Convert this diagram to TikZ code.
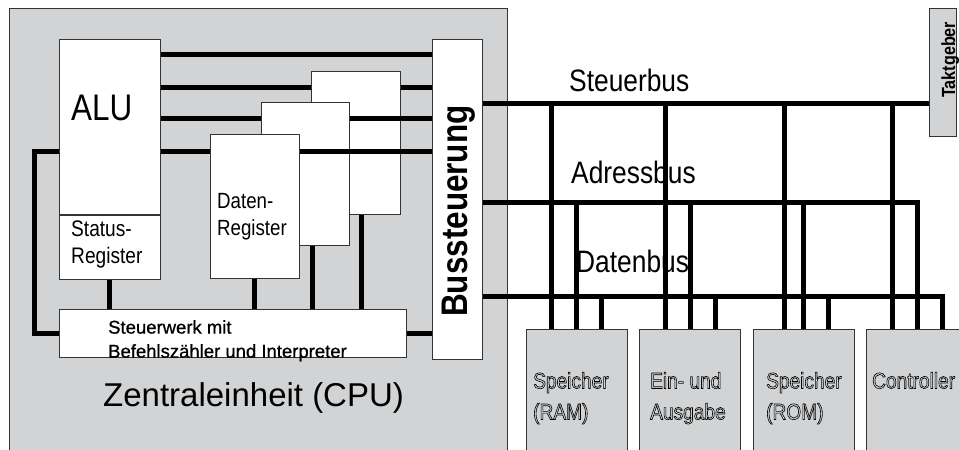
\documentclass[tikz,border=0pt]{standalone}
\usepackage{fontspec}
\setmainfont{Liberation Sans}
\newfontfamily\narrowsf{Liberation Sans}[FakeStretch=0.85]
\newfontfamily\heavysf{Liberation Sans}[FakeBold=0.8]
\usetikzlibrary{positioning}
\definecolor{cpugray}{RGB}{210,211,213}
\newcommand\hollowtext{\special{pdf:literal direct 0.6 w 1 Tr}}
\newcommand\solidtext{\special{pdf:literal direct 0 Tr}}

\begin{document}
\begin{tikzpicture}[x=1pt,y=-1pt,
  box/.style={draw=black!80,line width=0.8pt,fill=white,anchor=north west,inner sep=0pt},
  graybox/.style={box,fill=cpugray},
  bus/.style={line width=5pt},
  txt/.style={inner sep=0pt,align=left,anchor=north west},
  buslbl/.style={inner sep=0pt,anchor=base west,font=\narrowsf\fontsize{31}{37}\selectfont},
  devlbl/.style={txt,font=\narrowsf\fontsize{22.5}{31}\selectfont}]
\useasboundingbox (0,0) rectangle (959,450);
\clip (0,0) rectangle (959,450);
\fill[white] (0,0) rectangle (959,450);

\node[graybox,minimum width=498,minimum height=460] (cpu) at (9,7.5) {};

\node[buslbl] (sbl) at (569,91) {Steuerbus};
\node[buslbl] (abl) at (571,183) {Adressbus};
\node[buslbl] (dbl) at (576,272) {Datenbus};

\node[box,minimum width=50,minimum height=320] (bst) at (432,39) {};
\node[box,minimum width=101,minimum height=175] (alu) at (59,39) {};
\node[box,minimum width=101,minimum height=64,below=0pt of alu] (stat) {};
\node[box,minimum width=347,minimum height=48] (stw) at (59,309) {};

\coordinate (r1) at (0,54);
\coordinate (r2) at (0,87);
\coordinate (r3) at (0,118);
\coordinate (r4) at (0,151);

\draw[bus] (alu.east|-r1) -- (bst.west|-r1);
\draw[bus] (alu.east|-r2) -- (bst.west|-r2);
\node[box,minimum width=89,minimum height=143] (breg) at (311,71) {};
\draw[bus] (alu.east|-r3) -- (bst.west|-r3);
\node[box,minimum width=88,minimum height=143] (mreg) at (261,102) {};
\draw[bus] (alu.east|-r4) -- (bst.west|-r4);
\node[box,minimum width=89,minimum height=144] (dreg) at (210,134) {};

\draw[bus] (alu.west|-r4) -- ++(-25,0) |- (stw.west);
\draw[bus] (stw.east) -- (stw.east-|bst.west);
\draw[bus] (stat.south) -- (stat.south|-stw.north);
\draw[bus] (dreg.south) -- (dreg.south|-stw.north);
\draw[bus] ([xshift=7]mreg.south) -- ([xshift=7]mreg.south|-stw.north);
\draw[bus] ([xshift=6]breg.south) -- ([xshift=6]breg.south|-stw.north);

\node[inner sep=0pt,anchor=base west,font=\narrowsf\fontsize{37}{44}\selectfont] (alut) at (71,120) {ALU};
\node[txt,font=\narrowsf\fontsize{22.5}{27}\selectfont] (statt) at (71,221) {Status-\\Register};
\node[txt,font=\narrowsf\fontsize{22}{27}\selectfont] (dregt) at (217,193) {Daten-\\Register};
\node[txt,font=\heavysf\fontsize{18.5}{24}\selectfont] (stwt) at (108,320) {Steuerwerk mit\\Befehlszähler und Interpreter};
\node[inner sep=0pt,anchor=base west,font=\fontsize{33}{40}\selectfont] (cput) at (103,406) {Zentraleinheit (CPU)};
\node[inner sep=0pt,anchor=base west,rotate=90,font=\narrowsf\bfseries\fontsize{37}{44}\selectfont] (bstt) at (467,317) {Bussteuerung};

\node[graybox,minimum width=101,minimum height=130] (ram) at (526,329) {};
\node[graybox,minimum width=101,minimum height=130] (ea) at (639,329) {};
\node[graybox,minimum width=101,minimum height=130] (rom) at (753,329) {};
\node[graybox,minimum width=110,minimum height=130] (ctl) at (866,329) {};
\node[graybox,minimum width=27,minimum height=128] (takt) at (929,7.5) {};
\node[inner sep=0pt,anchor=base west,rotate=90,font=\narrowsf\bfseries\fontsize{19}{23}\selectfont] (taktt) at (955,98) {Taktgeber};

\node[devlbl] (ramt) at (533,372) {\hollowtext Speicher\\(RAM)\solidtext};
\node[devlbl] (eat) at (650,372) {\hollowtext Ein- und\\Ausgabe\solidtext};
\node[devlbl] (romt) at (766,372) {\hollowtext Speicher\\(ROM)\solidtext};
\node[devlbl] (ctlt) at (872,372) {\hollowtext Controller\solidtext};

\coordinate (sb) at (0,103);
\coordinate (ab) at (0,202);
\coordinate (db) at (0,296);

\draw[bus] (bst.east|-sb) -- (takt.west|-sb);
\draw[bus] (bst.east|-ab) -| ([xshift=51]ctl.north west);
\draw[bus] (bst.east|-db) -| ([xshift=76]ctl.north west);
\foreach \d/\s in {ram/25,ea/26,rom/31,ctl/26}
  \draw[bus] ([xshift=\s]\d.north west) -- ([xshift=\s]\d.north west|-sb);
\foreach \d/\a/\b in {ram/50/75,ea/51/76,rom/50/75}{
  \draw[bus] ([xshift=\a]\d.north west) -- ([xshift=\a]\d.north west|-ab);
  \draw[bus] ([xshift=\b]\d.north west) -- ([xshift=\b]\d.north west|-db);
}
\end{tikzpicture}
\end{document}
